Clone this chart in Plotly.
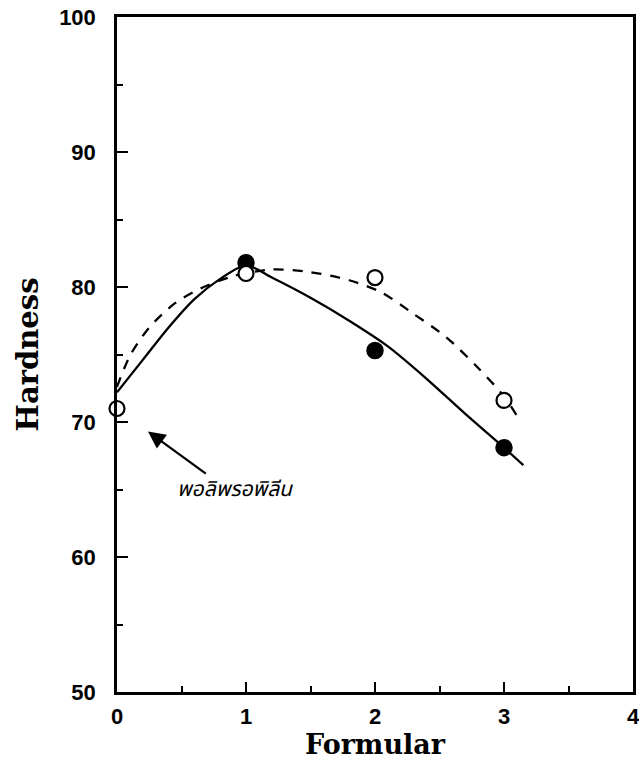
import plotly.graph_objects as go

# Measured points
formular = [0, 1, 2, 3]
hard_open = [71.0, 81.0, 80.7, 71.6]     # open circles (x=0: polypropylene)
form_filled = [1, 2, 3]
hard_filled = [81.8, 75.3, 68.1]         # filled circles

# Fitted curves
solid_x = [0, 0.2, 0.4, 0.6, 0.8, 1.0, 1.2, 1.5, 1.8, 2.1, 2.4, 2.7, 3.0, 3.15]
solid_y = [72.2, 74.6, 77.0, 79.1, 80.6, 81.6, 80.7, 79.2, 77.5, 75.6, 73.2, 70.6, 68.1, 66.8]
dash_x = [0, 0.1, 0.25, 0.45, 0.65, 0.9, 1.2, 1.5, 1.8, 2.05, 2.3, 2.55, 2.8, 3.0, 3.11]
dash_y = [72.6, 74.9, 77.0, 78.8, 79.9, 80.8, 81.3, 81.1, 80.5, 79.6, 78.0, 76.3, 74.0, 71.9, 70.3]

x_ticks = [0, 1, 2, 3, 4]
y_ticks = [50, 60, 70, 80, 90, 100]
annot_text = "พอลิพรอพิลีน"

fig = go.Figure()
fig.add_trace(go.Scatter(x=solid_x, y=solid_y, mode="lines",
                         line=dict(color="black", width=2.3, shape="spline", smoothing=0.8),
                         showlegend=False, hoverinfo="skip"))
fig.add_trace(go.Scatter(x=dash_x, y=dash_y, mode="lines",
                         line=dict(color="black", width=2.3, shape="spline", smoothing=0.8, dash="10px,9px"),
                         showlegend=False, hoverinfo="skip"))
fig.add_trace(go.Scatter(x=form_filled, y=hard_filled, mode="markers", cliponaxis=False,
                         marker=dict(size=16, color="black", line=dict(color="black", width=1.5)),
                         showlegend=False))
fig.add_trace(go.Scatter(x=formular, y=hard_open, mode="markers", cliponaxis=False,
                         marker=dict(size=15, color="white", line=dict(color="black", width=2.2)),
                         showlegend=False))

fig.add_annotation(x=0.24, y=69.3, xref="x", yref="y", ax=0.70, ay=66.1, axref="x", ayref="y",
                   showarrow=True, arrowhead=2, arrowsize=1.5, arrowwidth=2.3, arrowcolor="black",
                   text="", standoff=0)
fig.add_annotation(x=0.45, y=65.0, xref="x", yref="y", text="<i>" + annot_text + "</i>", showarrow=False,
                   xanchor="left", yanchor="middle",
                   font=dict(family="Noto Sans Thai, Noto Sans, DejaVu Sans", size=21, color="black"))

fig.update_xaxes(range=[0, 4], tickvals=x_ticks, ticktext=["<b>%d</b>" % v for v in x_ticks],
                 ticks="inside", ticklen=10, tickwidth=2, ticklabeloverflow="allow", automargin=False,
                 tickcolor="black", showline=True, linecolor="black", linewidth=2.5, mirror=True,
                 showgrid=False, zeroline=False,
                 minor=dict(dtick=0.5, ticks="inside", ticklen=6, tickwidth=2, tickcolor="black"),
                 tickfont=dict(family="Liberation Sans", size=22, color="black"),
                 ticklabelstandoff=3,
                 title=dict(text="<b>Formular</b>", font=dict(family="DejaVu Serif", size=27, color="black"),
                            standoff=0))
fig.update_yaxes(range=[50, 100], tickvals=y_ticks, ticktext=["<b>%d</b>" % v for v in y_ticks],
                 ticks="inside", ticklen=11, tickwidth=2,
                 tickcolor="black", showline=True, linecolor="black", linewidth=2.5, mirror=True,
                 showgrid=False, zeroline=False,
                 minor=dict(dtick=5, ticks="inside", ticklen=6, tickwidth=2, tickcolor="black"),
                 tickfont=dict(family="Liberation Sans", size=22, color="black"),
                 ticklabelstandoff=14,
                 title=dict(text="<b>Hardness</b>", font=dict(family="DejaVu Serif", size=29, color="black"),
                            standoff=12))

fig.update_layout(width=639, height=760, margin=dict(l=117, r=3, t=17, b=68),
                  plot_bgcolor="white", paper_bgcolor="white")
fig.write_html("out.html")
